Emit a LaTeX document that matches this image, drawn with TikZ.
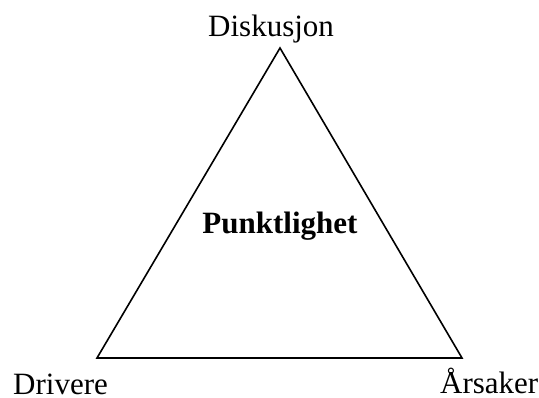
\documentclass[tikz,border=0pt]{standalone}
\usepackage{fontspec}
\setmainfont{Liberation Serif}
\begin{document}
\begin{tikzpicture}[x=1pt,y=1pt,
  lbl/.style={inner sep=0pt,anchor=base west,font=\fontsize{31}{36}\selectfont},
  title/.style={inner sep=0pt,anchor=base,font=\fontsize{31}{36}\selectfont\bfseries},
  edge/.style={line width=1.6pt,line join=miter}]
\useasboundingbox (0,0) rectangle (539,398);
\coordinate (top) at (280,350);
\coordinate (bl) at (97,40);
\coordinate (br) at (462,40);
\draw[edge] (top) -- (bl) -- (br) -- cycle;
\node[lbl] (disk) at (208,361) {Diskusjon};
\node[lbl] (driv) at (13,3) {Drivere};
\node[lbl] (arsa) at (440,4) {Årsaker};
\node[title] (punk) at (280,164) {Punktlighet};
\end{tikzpicture}
\end{document}
